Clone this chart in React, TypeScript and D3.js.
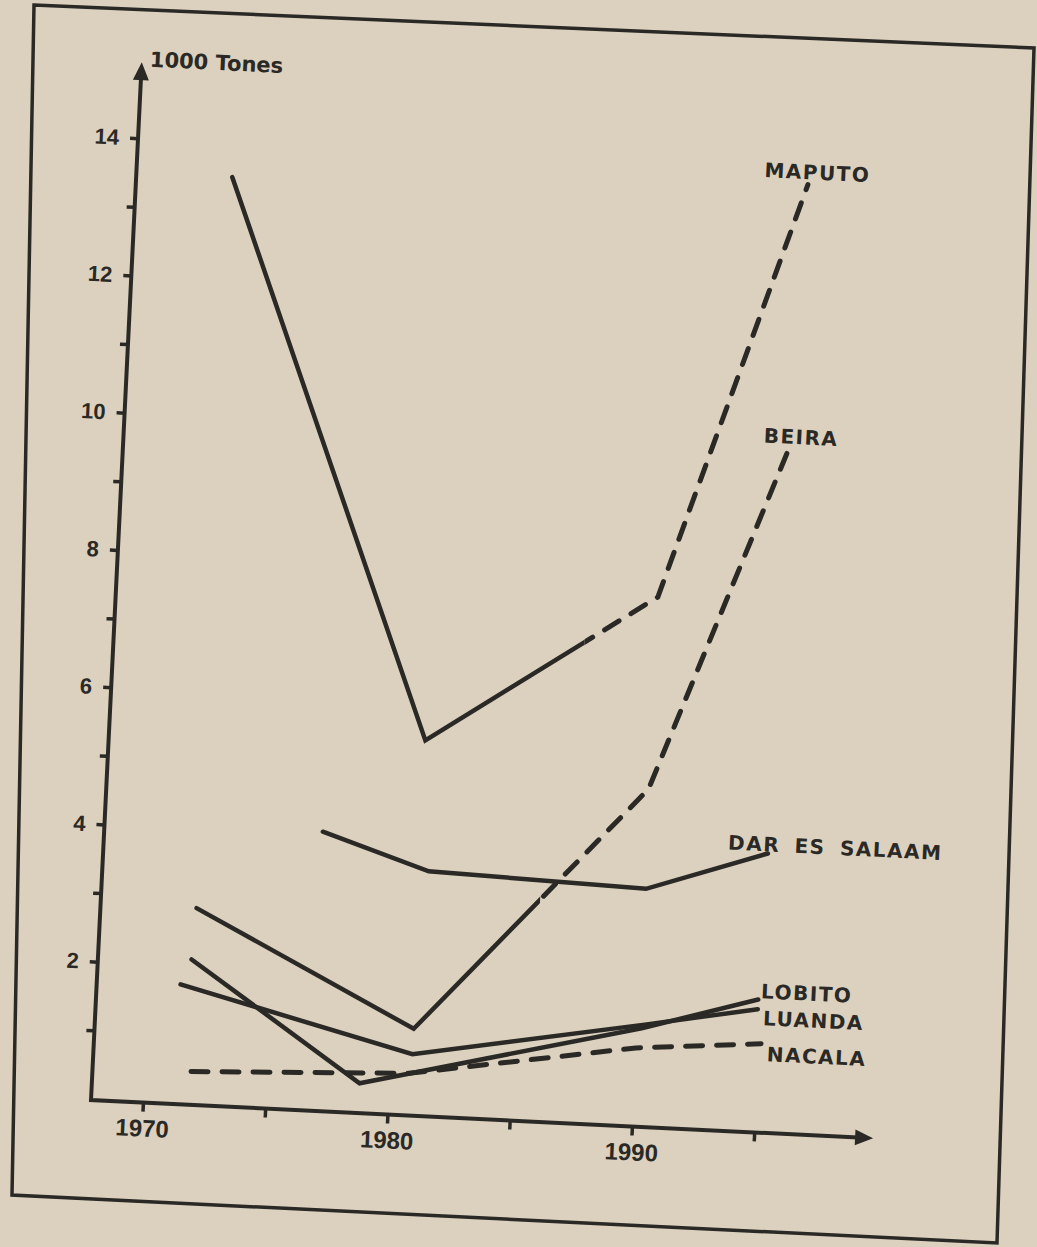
import React, { useEffect, useRef } from 'react';
import * as d3 from 'd3';

// values (1000 tones)
const maputoYears = [1971.8, 1980.8, 1990.0, 1995.3];
const maputoValues = [13.5, 5.45, 7.7, 13.8];
const beiraYears = [1971.8, 1980.9, 1990.0, 1995.1];
const beiraValues = [2.85, 1.25, 4.9, 10.0];
const darYears = [1976.8, 1981.2, 1990.1, 1995.0];
const darValues = [4.05, 3.55, 3.45, 4.05];
const lobitoYears = [1971.7, 1978.8, 1990.2, 1994.9];
const lobitoValues = [2.1, 0.42, 1.42, 1.92];
const luandaYears = [1971.3, 1980.9, 1990.4, 1994.9];
const luandaValues = [1.73, 0.88, 1.48, 1.78];
const nacalaYears = [1971.9, 1980.8, 1990.0, 1995.1];
const nacalaValues = [0.47, 0.6, 1.13, 1.28];

// where the solid (actual) part turns into the dashed (projected) part
const maputoSolidUntil = 1987.1;
const beiraSolidUntil = 1985.8;

const yTickValues = [1, 2, 3, 4, 5, 6, 7, 8, 9, 10, 11, 12, 13, 14];
const xTickValues = [1970, 1975, 1980, 1985, 1990, 1995];
const xTickLabels = ['1970', '', '1980', '', '1990', ''];
const yLabel = '1000 Tones';

const series = [
  { name: 'MAPUTO', years: maputoYears, values: maputoValues, solidUntil: maputoSolidUntil, label: [1993.5, 13.88] },
  { name: 'BEIRA', years: beiraYears, values: beiraValues, solidUntil: beiraSolidUntil, label: [1994.0, 10.02] },
  { name: 'DAR ES SALAAM', years: darYears, values: darValues, solidUntil: Infinity, label: [1993.36, 4.08] },
  { name: 'LOBITO', years: lobitoYears, values: lobitoValues, solidUntil: Infinity, label: [1995.0, 1.94] },
  { name: 'LUANDA', years: luandaYears, values: luandaValues, solidUntil: Infinity, label: [1995.13, 1.55] },
  { name: 'NACALA', years: nacalaYears, values: nacalaValues, solidUntil: -Infinity, label: [1995.36, 1.03] },
];

const W = 1037;
const H = 1247;
const PAPER = '#dbd1be';
const INK = '#2b2926';
const TILT = 2.8; // the scan is slightly rotated
const originX = 91;
const originY = 1100;
const xTip = 874;
const yTip = 61;

const frameCorners: [number, number][] = [[34, 5], [1034, 48], [997, 1243], [12, 1195]];

export default function App() {
  const svgRef = useRef<SVGSVGElement>(null);

  useEffect(() => {
    if (!svgRef.current) return;
    const svg = d3.select(svgRef.current);
    svg.selectAll('*').remove();

    const x = d3.scaleLinear().domain([1970, 1995]).range([143, 755]);
    const y = d3.scaleLinear().domain([0, 14]).range([1099, 137]);

    svg.append('rect').attr('width', W).attr('height', H).attr('fill', PAPER);

    // page frame
    svg.append('path')
      .attr('d', d3.line()(frameCorners) + 'Z')
      .attr('fill', 'none')
      .attr('stroke', INK)
      .attr('stroke-width', 3.5);

    const defs = svg.append('defs');
    const g = svg.append('g').attr('transform', `rotate(${TILT}, ${originX}, ${originY})`);

    // y axis
    const yAxis = d3.axisLeft(y)
      .tickValues(yTickValues)
      .tickFormat(d => (+d % 2 === 0 ? String(d) : ''))
      .tickSize(8)
      .tickPadding(11)
      .tickSizeOuter(0);
    const yg = g.append('g').attr('transform', `translate(${originX},0)`).call(yAxis);
    yg.select('.domain').remove();
    yg.selectAll('line').attr('stroke', INK).attr('stroke-width', 3.5);
    yg.attr('font-family', '"Liberation Sans", Arial, sans-serif')
      .attr('font-size', 22)
      .attr('font-weight', 'bold');
    yg.selectAll('text').attr('fill', INK);

    // x axis
    const xAxis = d3.axisBottom(x)
      .tickValues(xTickValues)
      .tickFormat((d, i) => xTickLabels[i])
      .tickSize(9)
      .tickPadding(8)
      .tickSizeOuter(0);
    const xg = g.append('g').attr('transform', `translate(0,${originY})`).call(xAxis);
    xg.select('.domain').remove();
    xg.selectAll('line').attr('stroke', INK).attr('stroke-width', 3.5);
    xg.attr('font-family', '"Liberation Sans", Arial, sans-serif')
      .attr('font-size', 24)
      .attr('font-weight', 'bold');
    xg.selectAll('text').attr('fill', INK);

    // axis lines with arrow heads
    g.append('path')
      .attr('d', `M${originX},${yTip + 10}V${originY}H${xTip - 10}`)
      .attr('fill', 'none')
      .attr('stroke', INK)
      .attr('stroke-width', 4);
    g.append('path')
      .attr('d', `M${originX},${yTip}l-8,18h16Z`)
      .attr('fill', INK);
    g.append('path')
      .attr('d', `M${xTip},${originY}l-18,-8v16Z`)
      .attr('fill', INK);

    g.append('text')
      .attr('x', originX + 8)
      .attr('y', yTip + 4)
      .attr('font-family', '"DejaVu Sans", sans-serif')
      .attr('font-size', 21)
      .attr('font-weight', 'bold')
      .attr('fill', INK)
      .text(yLabel);

    const line = d3.line<[number, number]>()
      .x(d => x(d[0]))
      .y(d => y(d[1]));

    series.forEach((s, i) => {
      const pts = s.years.map((yr, j) => [yr, s.values[j]] as [number, number]);
      const cut = Number.isFinite(s.solidUntil) ? x(s.solidUntil) : s.solidUntil > 0 ? W * 2 : -W;

      defs.append('clipPath').attr('id', `solid-${i}`)
        .append('rect').attr('x', -W).attr('y', -H).attr('width', cut + W).attr('height', H * 3);
      defs.append('clipPath').attr('id', `dash-${i}`)
        .append('rect').attr('x', cut).attr('y', -H).attr('width', W * 3).attr('height', H * 3);

      g.append('path')
        .datum(pts)
        .attr('d', line)
        .attr('fill', 'none')
        .attr('stroke', INK)
        .attr('stroke-width', 4.5)
        .attr('stroke-linecap', 'round')
        .attr('clip-path', `url(#solid-${i})`);

      g.append('path')
        .datum(pts)
        .attr('d', line)
        .attr('fill', 'none')
        .attr('stroke', INK)
        .attr('stroke-width', 5)
        .attr('stroke-linecap', 'round')
        .attr('stroke-dasharray', '17 14')
        .attr('clip-path', `url(#dash-${i})`);

      g.append('text')
        .attr('x', x(s.label[0]))
        .attr('y', y(s.label[1]))
        .attr('font-family', '"DejaVu Sans", sans-serif')
        .attr('font-size', 20)
        .attr('font-weight', 'bold')
        .attr('letter-spacing', 1.5)
        .attr('word-spacing', 6)
        .attr('fill', INK)
        .text(s.name);
    });
  }, []);

  return (
    <svg
      ref={svgRef}
      width={W}
      height={H}
      style={{ position: 'absolute', left: 0, top: 0, display: 'block' }}
    />
  );
}
